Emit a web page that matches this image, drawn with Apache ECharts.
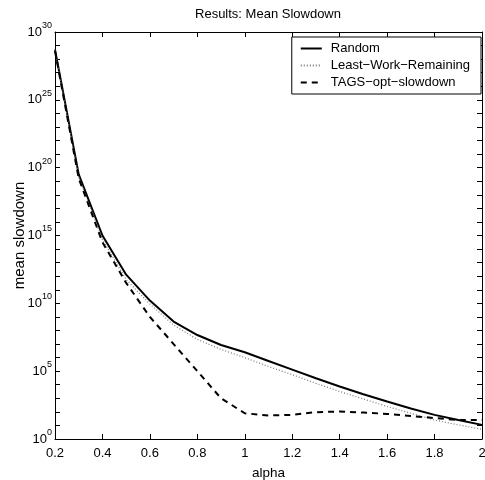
<!DOCTYPE html>
<html><head><meta charset="utf-8">
<script src="https://cdn.jsdelivr.net/npm/echarts@6/dist/echarts.min.js"></script>
<style>html,body{margin:0;padding:0;background:#fff}#c{width:485px;height:480px}</style>
</head><body><div id="c"></div>
<script>
const FONT = "'Liberation Sans', Arial, Helvetica, sans-serif";
const alpha = [0.2,0.3,0.4,0.5,0.6,0.7,0.8,0.9,1.0,1.1,1.2,1.3,1.4,1.5,1.6,1.7,1.8,1.9,2.0];
const randomVals = [5.0e28,3.2e19,1.0e15,1.3e12,1.6e10,4.5e8,4.6e7,8.5e6,2.5e6,5.6e5,1.3e5,3.0e4,7.4e3,2.0e3,575,178,60,25,11];
const lwrVals    = [4.5e28,2.2e19,5.0e14,5.6e11,8.9e9,2.5e8,2.2e7,4.0e6,1.0e6,2.2e5,5.5e4,1.26e4,3.2e3,890,250,79,25,11,5.2];
const tagsVals   = [4.0e28,1.6e19,3.2e14,3.2e11,1.0e9,1.0e7,1.0e5,1000,79,54,60,95,105,89,71,50,35,25,25];
const seriesNames = ['Random','Least\u2212Work\u2212Remaining','TAGS\u2212opt\u2212slowdown'];
const yLabelExponents = [0,5,10,15,20,25,30];

function pairs(xs, ys){ return xs.map((x,i)=>[x, ys[i]]); }

const tickStyle = {show:true, inside:true, length:5, lineStyle:{color:'#000', width:1}};
const lineStyleAxis = {show:true, onZero:false, lineStyle:{color:'#000', width:1}};

const chart = echarts.init(document.getElementById('c'), null, {renderer:'canvas'});
chart.setOption({
  animation:false,
  backgroundColor:'#fff',
  textStyle:{fontFamily:FONT},
  grid:{left:55, right:3, top:32, bottom:41, containLabel:false, outerBoundsMode:'none'},
  graphic:[{type:'text', x:268, y:8, style:{text:'Results: Mean Slowdown', fontSize:13, fontFamily:FONT, fill:'#000', textAlign:'center', textVerticalAlign:'top'}}],
  legend:{
    orient:'vertical', right:4, top:37,
    backgroundColor:'#fff', borderColor:'#000', borderWidth:1, borderRadius:0,
    padding:[5,11,5,8], itemGap:4, itemWidth:21, itemHeight:14,
    itemStyle:{opacity:0},
    textStyle:{fontSize:13, fontFamily:FONT, color:'#000', padding:[0,0,0,4]},
    data:seriesNames
  },
  xAxis:[{
    type:'value', min:0.2, max:2, interval:0.2,
    name:'alpha', nameLocation:'middle', nameGap:27, nameMoveOverlap:false,
    nameTextStyle:{fontSize:13.5, fontFamily:FONT, color:'#000'},
    axisLine:lineStyleAxis, axisTick:tickStyle, splitLine:{show:false},
    axisLabel:{fontSize:13, fontFamily:FONT, color:'#000', margin:8}
  },{
    type:'value', min:0.2, max:2, interval:0.2, position:'top',
    axisLine:lineStyleAxis, axisTick:tickStyle, splitLine:{show:false},
    axisLabel:{show:false}
  }],
  yAxis:[{
    type:'log', logBase:10, min:1, max:1e30, interval:1,
    name:'mean slowdown', nameLocation:'middle', nameGap:28, nameMoveOverlap:false,
    nameTextStyle:{fontSize:15, fontFamily:FONT, color:'#000'},
    axisLine:lineStyleAxis, axisTick:tickStyle, splitLine:{show:false},
    axisLabel:{
      margin:3,
      formatter:function(v){
        const e = Math.round(Math.log10(v));
        return yLabelExponents.indexOf(e) >= 0 ? '{b|10}{s|' + e + '}' : '';
      },
      rich:{
        b:{fontSize:13, fontFamily:FONT, color:'#000', lineHeight:22},
        s:{fontSize:9, fontFamily:FONT, color:'#000', verticalAlign:'top', lineHeight:22}
      }
    }
  },{
    type:'log', logBase:10, min:1, max:1e30, interval:1, position:'right',
    axisLine:lineStyleAxis, axisTick:tickStyle, splitLine:{show:false},
    axisLabel:{show:false}
  }],
  series:[{
    name:seriesNames[0], type:'line', data:pairs(alpha, randomVals),
    symbol:'none', lineStyle:{color:'#000', width:2, type:'solid'}, itemStyle:{color:'#000'}
  },{
    name:seriesNames[1], type:'line', data:pairs(alpha, lwrVals),
    symbol:'none', lineStyle:{color:'#777', width:1.2, type:[1,2]}, itemStyle:{color:'#777'}
  },{
    name:seriesNames[2], type:'line', data:pairs(alpha, tagsVals),
    symbol:'none', lineStyle:{color:'#000', width:2, type:[6,5]}, itemStyle:{color:'#000'}
  }]
});
</script></body></html>
